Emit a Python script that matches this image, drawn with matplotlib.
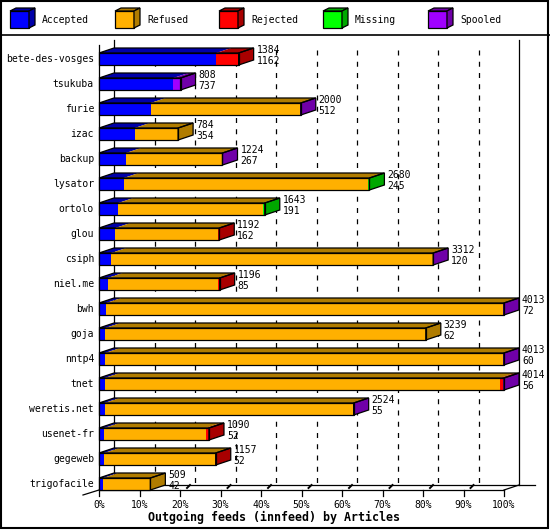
import matplotlib
matplotlib.use("Agg")
import matplotlib.pyplot as plt
from matplotlib.patches import Polygon

hosts = ["bete-des-vosges", "tsukuba", "furie", "izac", "backup", "lysator",
         "ortolo", "glou", "csiph", "niel.me", "bwh", "goja", "nntp4", "tnet",
         "weretis.net", "usenet-fr", "gegeweb", "trigofacile"]
offered = [1384, 808, 2000, 784, 1224, 2680, 1643, 1192, 3312, 1196, 4013,
           3239, 4013, 4014, 2524, 1090, 1157, 509]
accepted = [1162, 737, 512, 354, 267, 245, 191, 162, 120, 85, 72, 62, 60, 56,
            55, 52, 52, 42]
refused = [0, 0, 1482, 430, 952, 2420, 1432, 1018, 3187, 1091, 3935, 3177,
           3947, 3920, 2464, 1008, 1099, 467]
rejected = [222, 0, 0, 0, 0, 0, 0, 12, 0, 20, 0, 0, 0, 30, 0, 30, 6, 0]
missing = [0, 0, 0, 0, 0, 15, 20, 0, 0, 0, 0, 0, 0, 0, 0, 0, 0, 0]
spooled = [0, 71, 6, 0, 5, 0, 0, 0, 5, 0, 6, 0, 6, 8, 5, 0, 0, 0]

series_names = ["Accepted", "Refused", "Rejected", "Missing", "Spooled"]
series = [accepted, refused, rejected, missing, spooled]
front_col = ["#0000FF", "#FFB000", "#FF0000", "#00FF00", "#A000FF"]
dark_col = ["#0000A8", "#B07C00", "#A80000", "#00A800", "#7000A8"]
tick_labels = ["0%", "10%", "20%", "30%", "40%", "50%", "60%", "70%", "80%",
               "90%", "100%"]
title = "Outgoing feeds (innfeed) by Articles"

W, H = 550, 530
fig = plt.figure(figsize=(W / 100, H / 100), dpi=100)

# pixel geometry of the plot
X0, XW = 99.0, 405.0      # x pixel of 0% and width of 100%
Y0, YS = 59.0, 25.0       # y pixel of first row center and row spacing
vmax = max(offered)
k = vmax / XW              # value units per pixel

ax = fig.add_axes([0, 0, 1, 1])
ax.set_xlim(-X0 * k, (W - X0) * k)
ax.set_ylim((H - Y0) / YS, -Y0 / YS)
ax.axis("off")

deco = fig.add_axes([0, 0, 1, 1], zorder=-1)
deco.set_xlim(0, W)
deco.set_ylim(H, 0)
deco.axis("off")

mono = "DejaVu Sans Mono"
fs = 7.0
lw = 0.9
DX = 15 * k
DY = 5 / YS
HH = 6 / YS

n = len(hosts)


def py(p):
    return (p - Y0) / YS


def px(p):
    return (p - X0) * k


# back-wall dashed gridlines
for t in range(1, 10):
    x = t * vmax / 10 + DX
    ax.plot([x, x], [py(50), py(485)], color="black", lw=lw,
            ls=(0, (4, 5)), zorder=1)

# walls and floor
ax.plot([0, 0], [py(45), py(490)], color="black", lw=lw, zorder=1)
ax.plot([DX, DX], [py(40), py(485)], color="black", lw=lw, zorder=1)
ax.plot([vmax + DX, vmax + DX], [py(40), py(485)], color="black", lw=lw, zorder=1)
ax.plot([DX, px(535)], [py(485), py(485)], color="black", lw=lw, zorder=1)
ax.plot([0, vmax], [py(490), py(490)], color="black", lw=lw, zorder=1)
ax.plot([px(83), 0], [py(495), py(490)], color="black", lw=lw, zorder=1)
ax.plot([vmax, vmax + DX], [py(490), py(485)], color="black", lw=lw, zorder=1)
for t in range(11):
    x = t * vmax / 10
    ax.plot([x, x], [py(490), py(496)], color="black", lw=lw, zorder=1)
    if 0 < t < 10:
        ax.plot([x + 7 * k, x + 10 * k], [py(488), py(485)], color="black",
                lw=1.4, zorder=1)
    ax.text(x, py(505), tick_labels[t], ha="center", va="center",
            family=mono, fontsize=fs)

ax.text(px(274), py(517), title, ha="center", va="center", family=mono,
        fontsize=8.4, fontweight="bold")

# bars
for i in range(n):
    top, bot = i - HH, i + HH
    x0 = 0.0
    last = None
    for s in range(len(series)):
        v = series[s][i]
        if v <= 0:
            continue
        x1 = x0 + v
        ax.add_patch(Polygon([(x0, top), (x1, top), (x1, bot), (x0, bot)],
                             closed=True, facecolor=front_col[s], edgecolor="none",
                             zorder=3))
        ax.add_patch(Polygon([(x0, top), (x1, top), (x1 + DX, top - DY),
                              (x0 + DX, top - DY)], closed=True,
                             facecolor=dark_col[s], edgecolor="none", zorder=3))
        x0 = x1
        last = s
    xe = x0
    ax.add_patch(Polygon([(xe, top), (xe + DX, top - DY), (xe + DX, bot - DY),
                          (xe, bot)], closed=True, facecolor=dark_col[last],
                         edgecolor="black", lw=lw, zorder=4))
    ax.add_patch(Polygon([(0, top), (xe, top), (xe, bot), (0, bot)], closed=True,
                         facecolor="none", edgecolor="black", lw=lw, zorder=4))
    ax.add_patch(Polygon([(0, top), (DX, top - DY), (xe + DX, top - DY),
                          (xe, top)], closed=True, facecolor="none",
                         edgecolor="black", lw=lw, zorder=4))
    ax.text(px(94), i, hosts[i], ha="right", va="center", family=mono,
            fontsize=fs, zorder=5)
    ax.text(xe + DX + 3 * k, i - 9 / YS, str(offered[i]), ha="left",
            va="center", family=mono, fontsize=fs, zorder=5)
    ax.text(xe + DX + 3 * k, i + 2 / YS, str(accepted[i]), ha="left",
            va="center", family=mono, fontsize=fs, zorder=5)

# legend
lx = [10, 115, 219, 323, 428]
for j, name in enumerate(series_names):
    x = lx[j]
    deco.add_patch(Polygon([(x, 11), (x + 19, 11), (x + 19, 28), (x, 28)],
                           closed=True, facecolor=front_col[j], edgecolor="black",
                           lw=lw))
    deco.add_patch(Polygon([(x, 11), (x + 6, 8), (x + 25, 8), (x + 19, 11)],
                           closed=True, facecolor=dark_col[j], edgecolor="black",
                           lw=lw))
    deco.add_patch(Polygon([(x + 19, 11), (x + 25, 8), (x + 25, 25), (x + 19, 28)],
                           closed=True, facecolor=dark_col[j], edgecolor="black",
                           lw=lw))
    deco.text(x + 32, 20, name, ha="left", va="center", family=mono, fontsize=fs)

deco.plot([0, W], [35, 35], color="black", lw=1.2)
deco.add_patch(Polygon([(1, 1), (548, 1), (548, 528), (1, 528)], closed=True,
                       facecolor="none", edgecolor="black", lw=1.5))

fig.savefig("out.png", dpi=100)
